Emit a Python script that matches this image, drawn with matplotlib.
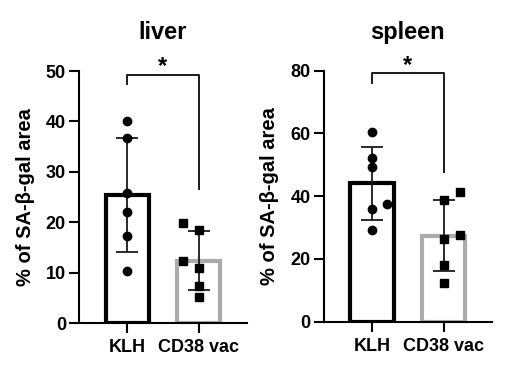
import numpy as np
import matplotlib
matplotlib.use("Agg")
import matplotlib.pyplot as plt

plt.rcParams['font.family'] = ['Liberation Sans', 'DejaVu Sans']
plt.rcParams['font.weight'] = 'bold'

groups = ["KLH", "CD38 vac"]

# individual animals
liver_klh = [40.0, 36.8, 25.9, 22.1, 17.3, 10.3]
liver_cd38 = [19.8, 18.4, 12.4, 10.9, 7.3, 5.2]
liver_cd38_dx = [-0.22, 0, -0.22, 0, 0, 0]
liver_klh_dx = [0, 0, 0, 0, 0, 0]

spleen_klh = [60.3, 52.3, 49.2, 37.6, 36.0, 29.2]
spleen_klh_dx = [0, 0, 0, 0.21, 0, 0]
spleen_cd38 = [38.8, 41.2, 27.7, 26.4, 18.1, 12.2]
spleen_cd38_dx = [0, 0.22, 0.22, 0, 0, 0]

panels = [
    ("liver", liver_klh, liver_klh_dx, liver_cd38, liver_cd38_dx, 50, [0, 10, 20, 30, 40, 50],
     49.3, 47.5, 26.7, [0.151, 0.136, 0.320, 0.674]),
    ("spleen", spleen_klh, spleen_klh_dx, spleen_cd38, spleen_cd38_dx, 80, [0, 20, 40, 60, 80],
     79.2, 76.2, 47.8, [0.618, 0.140, 0.321, 0.671]),
]

fig = plt.figure(figsize=(5.24, 3.74), dpi=100)

for title, klh, klh_dx, cd38, cd38_dx, ymax, yticks, br_y, br_l, br_r, pos in panels:
    ax = fig.add_axes(pos)
    data = [np.array(klh), np.array(cd38)]
    means = [d.mean() for d in data]
    sds = [d.std(ddof=1) for d in data]
    edge = ["black", "#ababab"]
    ax.bar([0, 1], means, width=0.6, color="white", edgecolor=edge, linewidth=3, zorder=1)
    ax.errorbar([0, 1], means, yerr=sds, fmt="none", ecolor="#1a1a1a", elinewidth=1.3,
                capsize=8, capthick=1.3, zorder=2)
    ax.plot(np.array(klh_dx), klh, "o", color="black", markersize=6, zorder=3, clip_on=False)
    ax.plot(1 + np.array(cd38_dx), cd38, "s", color="black", markersize=5.5, zorder=3, clip_on=False)

    # significance bracket
    ax.plot([0, 0, 1, 1], [br_l, br_y, br_y, br_r], color="#1a1a1a", linewidth=1.4, clip_on=False)
    ax.text(0.5, br_y + ymax * 0.005, "*", ha="center", va="baseline", fontsize=17, fontweight="bold")

    ax.set_xlim(-0.67, 1.67)
    ax.set_ylim(0, ymax)
    ax.set_yticks(yticks)
    ax.set_xticks([0, 1])
    ax.set_xticklabels(groups)
    ax.tick_params(axis="both", labelsize=13, width=1.5, length=7.5, direction="out")
    ax.tick_params(axis="y", pad=2)
    ax.tick_params(axis="x", pad=4)
    for lab in ax.get_xticklabels() + ax.get_yticklabels():
        lab.set_fontweight("bold")
    ax.spines["top"].set_visible(False)
    ax.spines["right"].set_visible(False)
    ax.spines["left"].set_linewidth(1.5)
    ax.spines["bottom"].set_linewidth(1.5)
    ax.set_ylabel("% of SA-β-gal area", fontsize=14.5, fontweight="bold", labelpad=8)
    ax.set_title(title, fontsize=17, fontweight="bold", pad=23)

fig.savefig("out.png", dpi=100)
